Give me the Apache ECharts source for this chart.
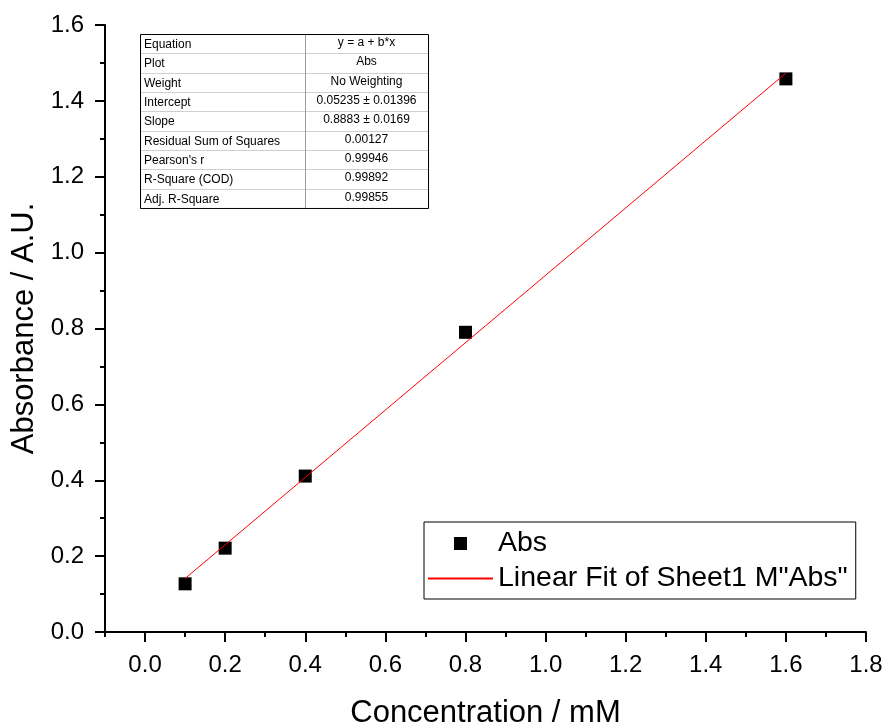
<!DOCTYPE html>
<html>
<head>
<meta charset="utf-8">
<script src="https://cdn.jsdelivr.net/npm/echarts@6/dist/echarts.min.js"></script>
<style>
  html, body { margin: 0; padding: 0; background: #fff; }
  #chart { width: 888px; height: 726px; }
</style>
</head>
<body>
<div id="chart"></div>
<script>
// measured points
const absX = [0.1, 0.2, 0.4, 0.8, 1.6]
const absY = [0.127, 0.221, 0.411, 0.790, 1.458]

// fitted line end points
const fitX = [0.1, 1.6]
const fitY = [0.141, 1.473]

const xMajorTicks = [0, 0.2, 0.4, 0.6, 0.8, 1.0, 1.2, 1.4, 1.6, 1.8]

const tableKeys = ['Equation', 'Plot', 'Weight', 'Intercept', 'Slope',
  'Residual Sum of Squares', "Pearson's r", 'R-Square (COD)', 'Adj. R-Square']
const tableVals = ['y = a + b*x', 'Abs', 'No Weighting', '0.05235 \u00b1 0.01396',
  '0.8883 \u00b1 0.0169', '0.00127', '0.99946', '0.99892', '0.99855']

const fitName = 'Linear Fit of Sheet1 M"Abs"'
const font = "'Liberation Sans', Arial, sans-serif"

// fit statistics table drawn with graphic elements
const buildTable = () => {
  const left = 140, top = 34, width = 288, rowH = 19.33, split = 305
  const height = rowH * tableKeys.length
  const children = []
  for (let i = 1; i < tableKeys.length; i++) {
    const y = Math.round(top + rowH * i) + 0.5
    children.push({ type: 'line', shape: { x1: left, y1: y, x2: left + width, y2: y },
      style: { stroke: '#cfcfcf', lineWidth: 1 } })
  }
  children.push({ type: 'line', shape: { x1: split + 0.5, y1: top, x2: split + 0.5, y2: top + height },
    style: { stroke: '#9a9a9a', lineWidth: 1 } })
  children.push({ type: 'rect', shape: { x: left + 0.5, y: top + 0.5, width: width, height: height },
    style: { fill: 'none', stroke: '#000', lineWidth: 1 } })
  tableKeys.forEach((key, i) => {
    const cy = top + rowH * (i + 0.5)
    children.push({ type: 'text', x: left + 4, y: cy + 1,
      style: { text: key, fontSize: 12, fontFamily: font, fill: '#000', verticalAlign: 'middle' } })
    children.push({ type: 'text', x: (split + left + width) / 2, y: cy - 1,
      style: { text: tableVals[i], fontSize: 12, fontFamily: font, fill: '#000',
        align: 'center', verticalAlign: 'middle' } })
  })
  return { type: 'group', z: 10, children }
}

const chart = echarts.init(document.getElementById('chart'))

const tickStyle = { color: '#000', width: 2 }
const axisLine = { show: true, onZero: false, lineStyle: tickStyle }

const option = {
  backgroundColor: '#fff',
  animation: false,
  textStyle: { fontFamily: font },
  grid: { left: 105, right: 22, top: 25, bottom: 94, outerBoundsMode: 'none' },
  xAxis: [{
    type: 'value', min: -0.1, max: 1.8, position: 'bottom',
    axisLine,
    axisTick: { show: true, customValues: xMajorTicks, length: 10, lineStyle: tickStyle },
    axisLabel: { customValues: xMajorTicks, formatter: v => v.toFixed(1),
      fontSize: 24, color: '#000', margin: 21 },
    splitLine: { show: false },
    name: 'Concentration / mM', nameLocation: 'middle', nameGap: 66,
    nameTextStyle: { fontSize: 31, color: '#000' }
  }, {
    type: 'value', min: -0.1, max: 1.8, interval: 0.1, position: 'bottom',
    axisLine: { show: false, onZero: false },
    axisTick: { show: true, length: 5, lineStyle: tickStyle },
    axisLabel: { show: false },
    splitLine: { show: false }
  }],
  yAxis: {
    type: 'value', min: 0, max: 1.6, interval: 0.2,
    axisLine,
    axisTick: { show: true, length: 10, lineStyle: tickStyle },
    minorTick: { show: true, splitNumber: 2, length: 5, lineStyle: tickStyle },
    axisLabel: { formatter: v => v.toFixed(1), fontSize: 24, color: '#000', margin: 21 },
    splitLine: { show: false },
    name: 'Absorbance / A.U.', nameLocation: 'middle', nameGap: 63,
    nameTextStyle: { fontSize: 31, color: '#000' }
  },
  legend: {
    orient: 'vertical', left: 424, top: 522,
    itemWidth: 65, itemHeight: 13, itemGap: 6,
    padding: [7, 8, 6, 3],
    borderColor: '#000', borderWidth: 1,
    textStyle: { fontSize: 28.5, color: '#000' },
    data: [
      { name: 'Abs', icon: 'path://M0,0H10V10H0Z' },
      { name: fitName, itemStyle: { opacity: 0, borderWidth: 0 } }
    ]
  },
  graphic: [buildTable()],
  series: [{
    name: fitName, type: 'line',
    data: fitX.map((x, i) => [x, fitY[i]]),
    symbol: 'none',
    lineStyle: { color: '#ff0000', width: 1 },
    itemStyle: { color: '#ff0000' },
    z: 3
  }, {
    name: 'Abs', type: 'scatter',
    data: absX.map((x, i) => [x, absY[i]]),
    symbol: 'rect', symbolSize: 13,
    itemStyle: { color: '#000', opacity: 1 },
    z: 2
  }]
}

chart.setOption(option)
</script>
</body>
</html>
